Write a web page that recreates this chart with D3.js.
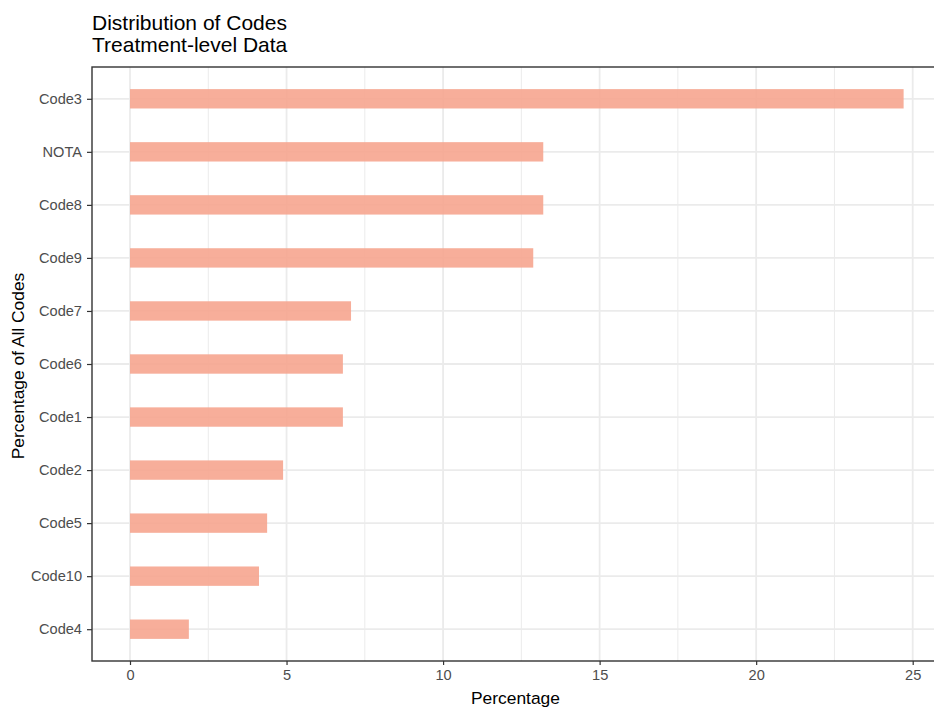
<!DOCTYPE html>
<html><head><meta charset="utf-8">
<script src="https://cdn.jsdelivr.net/npm/d3@7"></script>
<style>body{margin:0;background:#fff}svg text{font-family:"Liberation Sans",Arial,sans-serif}</style>
</head><body>
<svg id="c" width="934" height="713"></svg>
<script>
const categories = ["Code3","NOTA","Code8","Code9","Code7","Code6","Code1","Code2","Code5","Code10","Code4"];
const values = [24.71, 13.2, 13.2, 12.88, 7.06, 6.8, 6.8, 4.89, 4.38, 4.12, 1.88];
const xTicks = [0,5,10,15,20,25];
const xMinor = [2.5,7.5,12.5,17.5,22.5];
const titleLines = ["Distribution of Codes","Treatment-level Data"];

const svg = d3.select("#c");
const P = {l:92, t:67, r:940, b:661};
const x = d3.scaleLinear().domain([0,25]).range([130, 912.7]);
const y = d3.scalePoint().domain(categories).range([P.t+0.6*53, P.b-0.6*53]);
const step = y.step();
const g = svg.append("g");
g.append("rect").attr("x",P.l).attr("y",P.t).attr("width",P.r-P.l).attr("height",P.b-P.t).attr("fill","#fff");
g.selectAll(".mn").data(xMinor).join("line").attr("x1",d=>x(d)).attr("x2",d=>x(d)).attr("y1",P.t).attr("y2",P.b).attr("stroke","#ebebeb").attr("stroke-width",1);
g.selectAll(".mj").data(xTicks).join("line").attr("x1",d=>x(d)).attr("x2",d=>x(d)).attr("y1",P.t).attr("y2",P.b).attr("stroke","#ebebeb").attr("stroke-width",1.8);
g.selectAll(".hy").data(categories).join("line").attr("x1",P.l).attr("x2",P.r).attr("y1",d=>y(d)).attr("y2",d=>y(d)).attr("stroke","#ebebeb").attr("stroke-width",1.8);
const bh = step*0.365;
g.selectAll(".bar").data(categories).join("rect").attr("x",x(0)).attr("y",d=>y(d)-bh/2)
 .attr("width",(d,i)=>x(values[i])-x(0)).attr("height",bh).attr("fill","#f6a58f").attr("fill-opacity",0.9);
g.append("rect").attr("x",P.l).attr("y",P.t).attr("width",P.r-P.l).attr("height",P.b-P.t).attr("fill","none").attr("stroke","#333").attr("stroke-width",1.4);

const xa = svg.append("g").attr("transform",`translate(0,${P.b})`).call(d3.axisBottom(x).tickValues(xTicks).tickSize(4).tickPadding(5));
const ya = svg.append("g").attr("transform",`translate(${P.l},0)`).call(d3.axisLeft(y).tickSize(5).tickPadding(5));
[xa,ya].forEach(a=>{a.select(".domain").remove();a.selectAll(".tick line").attr("stroke","#333").attr("stroke-width",1.2);
 a.selectAll("text").attr("fill","#4d4d4d").style("font-size","14.6px");});

svg.append("text").attr("x",515.5).attr("y",704).attr("text-anchor","middle").style("font-size","17.4px").text("Percentage");
svg.append("text").attr("transform",`translate(24,${(P.t+P.b)/2+2}) rotate(-90)`).attr("text-anchor","middle").style("font-size","17.4px").text("Percentage of All Codes");
titleLines.forEach((t,i)=>svg.append("text").attr("x",P.l).attr("y",30+i*22).style("font-size","21px").text(t));
</script>
</body></html>
